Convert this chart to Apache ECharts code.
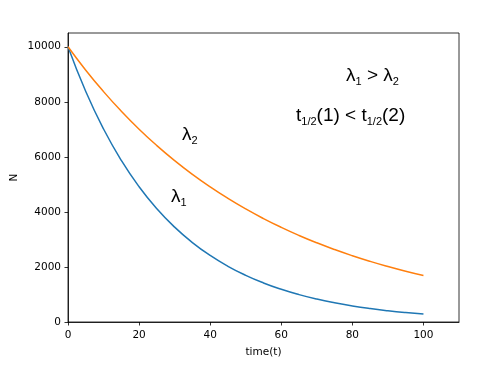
<!DOCTYPE html>
<html><head><meta charset="utf-8">
<script src="https://cdn.jsdelivr.net/npm/echarts@6/dist/echarts.min.js"></script>
<style>html,body{margin:0;padding:0;background:#fff}#c{width:494px;height:377px}</style>
</head><body><div id="c"></div>
<script>
const timeValues = [0,5,10,15,20,25,30,35,40,45,50,55,60,65,70,75,80,85,90,95,100];
const nLambda1 = [10000,8374,7012,5872,4916,4117,3447,2887,2417,2024,1695,1419,1188,995,833,698,584,489,410,343,287];
const nLambda2 = [10000,9149,8370,7657,7005,6409,5863,5364,4908,4490,4107,3758,3438,3145,2877,2632,2408,2203,2016,1844,1687];
const xTicks = [0,20,40,60,80,100];
const yTicks = [0,2000,4000,6000,8000,10000];

const FONT = 'DejaVu Sans';
const ANN = 'Liberation Sans';
const chart = echarts.init(document.getElementById('c'));
const sub = {fontSize: 11, fontFamily: ANN, lineHeight: 11, verticalAlign: 'bottom', fill: '#000'};
const main = {fontSize: 19, fontFamily: ANN, lineHeight: 24, verticalAlign: 'middle', fill: '#000'};
function annText(x, y, text) {
  return {type: 'text', left: x, top: y, style: {text: text, rich: {m: main, s: sub}, fill: '#000'}};
}
chart.setOption({
  animation: false,
  grid: {left: 68, right: 35, top: 33, bottom: 55, containLabel: false, outerBoundsMode: 'none',
         show: true, borderColor: '#000', borderWidth: 0.8, backgroundColor: 'transparent'},
  xAxis: {
    type: 'value', min: 0, max: 110,
    name: 'time(t)', nameLocation: 'middle', nameGap: 25, nameMoveOverlap: false,
    nameTextStyle: {fontFamily: FONT, fontSize: 10.5, color: '#000'},
    axisLine: {onZero: false, lineStyle: {color: '#000', width: 0.8}},
    axisTick: {show: true, length: 3.5, lineStyle: {color: '#000', width: 0.8}, customValues: xTicks},
    axisLabel: {fontFamily: FONT, fontSize: 10.5, color: '#000', margin: 8, customValues: xTicks,
                formatter: v => String(v)},
    splitLine: {show: false}
  },
  yAxis: {
    type: 'value', min: 0, max: 10500,
    name: 'N', nameLocation: 'middle', nameGap: 48, nameRotate: 90, nameMoveOverlap: false,
    nameTextStyle: {fontFamily: FONT, fontSize: 10.5, color: '#000'},
    axisLine: {show: true, onZero: false, lineStyle: {color: '#000', width: 0.8}},
    axisTick: {show: true, length: 3.5, lineStyle: {color: '#000', width: 0.8}, customValues: yTicks},
    axisLabel: {fontFamily: FONT, fontSize: 10.5, color: '#000', margin: 7, customValues: yTicks,
                formatter: v => String(v)},
    splitLine: {show: false}
  },
  series: [
    {type: 'line', name: 'λ1', data: timeValues.map((t, i) => [t, nLambda1[i]]), smooth: true, showSymbol: false,
     lineStyle: {color: '#1f77b4', width: 1.5}, itemStyle: {color: '#1f77b4'}},
    {type: 'line', name: 'λ2', data: timeValues.map((t, i) => [t, nLambda2[i]]), smooth: true, showSymbol: false,
     lineStyle: {color: '#ff7f0e', width: 1.5}, itemStyle: {color: '#ff7f0e'}}
  ],
  graphic: [
    annText(346, 66, '{m|λ}{s|1}{m| > λ}{s|2}'),
    annText(296, 106, '{m|t}{s|1/2}{m|(1) < t}{s|1/2}{m|(2)}'),
    annText(182, 125, '{m|λ}{s|2}'),
    annText(171, 187, '{m|λ}{s|1}')
  ]
});
</script></body></html>
